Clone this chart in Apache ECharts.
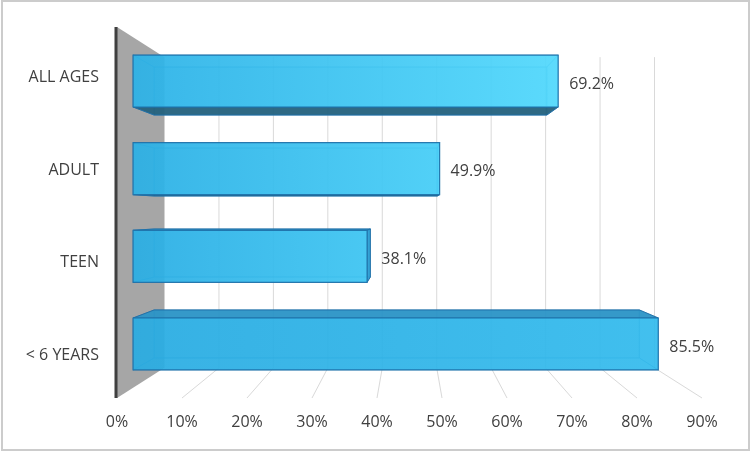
<!DOCTYPE html>
<html>
<head>
<meta charset="utf-8">
<title>Age groups</title>
<script src="https://cdn.jsdelivr.net/npm/echarts@6.0.0/dist/echarts.min.js"></script>
<style>
  html, body { margin: 0; padding: 0; background: #fff; }
  #chart { width: 752px; height: 452px; }
</style>
</head>
<body>
<div id="chart"></div>
<script>
// data
var categories = ['ALL AGES', 'ADULT', 'TEEN', '< 6 YEARS'];
var values = [69.2, 49.9, 38.1, 85.5];
var xTicks = [0, 10, 20, 30, 40, 50, 60, 70, 80, 90];

// fake perspective: everything shrinks toward the plot centre
var S_WALL = 0.8376;   // back wall
var S_FRONT = 0.945;   // front face of the bars
var S_BACK = 0.873;    // back face of the bars
var BAR_RATIO = 0.593; // bar thickness / category band

var FONT = '"Open Sans", "Noto Sans", sans-serif';
var TEXT = '#404040';

function proj(cx, cy, x, y, s) {
    return [cx + s * (x - cx), cy + s * (y - cy)];
}

function mix(a, b, t) {
    var pa = [1, 3, 5].map(function (i) { return parseInt(a.substr(i, 2), 16); });
    var pb = [1, 3, 5].map(function (i) { return parseInt(b.substr(i, 2), 16); });
    return 'rgb(' + pa.map(function (v, i) { return Math.round(v + (pb[i] - v) * t); }).join(',') + ')';
}

// back wall grid, floor lines and the grey left wall
function renderFrame(params, api) {
    var cs = params.coordSys;
    var cx = cs.x + cs.width / 2, cy = cs.y + cs.height / 2;
    var top = cs.y, bottom = cs.y + cs.height;
    var x = api.coord([api.value(0), 0])[0];
    var bt = proj(cx, cy, x, top, S_WALL);
    var bb = proj(cx, cy, x, bottom, S_WALL);
    var children = [];
    if (api.value(0) === 0) {
        children.push({
            type: 'polygon',
            shape: { points: [[x, top], bt, bb, [x, bottom]] },
            style: { fill: '#a6a6a6' }
        });
        children.push({
            type: 'line',
            shape: { x1: x - 1, y1: top, x2: x - 1, y2: bottom },
            style: { stroke: '#3f3f3f', lineWidth: 3 }
        });
    } else {
        children.push({
            type: 'line',
            shape: { x1: bt[0], y1: bt[1], x2: bb[0], y2: bb[1] },
            style: { stroke: '#d9d9d9', lineWidth: 1 }
        });
        children.push({
            type: 'line',
            shape: { x1: bb[0], y1: bb[1], x2: x, y2: bottom },
            style: { stroke: '#d9d9d9', lineWidth: 1 }
        });
    }
    return { type: 'group', children: children };
}

function renderBar(params, api) {
    var cs = params.coordSys;
    var cx = cs.x + cs.width / 2, cy = cs.y + cs.height / 2;
    var idx = api.value(1);
    var p0 = api.coord([0, idx]);
    var p1 = api.coord([api.value(0), idx]);
    var h = api.size([0, 1])[1] * BAR_RATIO;
    var x0 = p0[0], x1 = p1[0];
    var y0 = p0[1] - h / 2, y1 = p0[1] + h / 2;

    function corners(s) {
        return [proj(cx, cy, x0, y0, s), proj(cx, cy, x1, y0, s),
                proj(cx, cy, x1, y1, s), proj(cx, cy, x0, y1, s)];
    }
    var F = corners(S_FRONT), B = corners(S_BACK);
    var faint = 'rgba(30,115,175,0.45)';
    var children = [];

    // back face, only its edges show through
    children.push({ type: 'polygon', shape: { points: B },
        style: { fill: 'rgba(40,170,225,0.15)', stroke: faint, lineWidth: 1 } });

    var faces = [
        { pts: [F[0], F[1], B[1], B[0]], show: y0 > cy, fill: '#2b93c6' },  // top
        { pts: [F[3], F[2], B[2], B[3]], show: y1 < cy, fill: '#24617d' },  // bottom
        { pts: [F[1], F[2], B[2], B[1]], show: x1 < cx, fill: '#2a9dd3' },  // right end
        { pts: [F[0], F[3], B[3], B[0]], show: x0 > cx, fill: '#2a9dd3' }   // left end
    ];
    faces.forEach(function (f) {
        if (!f.show) {
            children.push({ type: 'polygon', shape: { points: f.pts },
                style: { fill: 'none', stroke: faint, lineWidth: 1 } });
        }
    });
    faces.forEach(function (f) {
        if (f.show) {
            children.push({ type: 'polygon', shape: { points: f.pts },
                style: { fill: f.fill, stroke: '#2070a8', lineWidth: 1, opacity: 0.95 } });
        }
    });

    // front face, lighter toward the top of the plot
    var t = (p0[1] - cs.y) / cs.height;
    children.push({
        type: 'polygon',
        shape: { points: F },
        style: {
            fill: new echarts.graphic.LinearGradient(0, 0, 1, 0, [
                { offset: 0, color: mix('#2db3e8', '#28abe1', t) },
                { offset: 1, color: mix('#56ddff', '#2fb6ea', t) }
            ]),
            stroke: '#1f72aa',
            lineWidth: 1.2,
            opacity: 0.93
        }
    });

    // value label
    var right = Math.max(F[1][0], B[1][0]);
    children.push({
        type: 'text',
        style: {
            text: api.value(0).toFixed(1) + '%',
            x: right + 11,
            y: (F[0][1] + F[3][1]) / 2 + 3,
            fill: TEXT,
            fontSize: 16,
            fontFamily: FONT,
            align: 'left',
            verticalAlign: 'middle'
        }
    });
    return { type: 'group', children: children };
}

var chart = echarts.init(document.getElementById('chart'));
var option = {
    animation: false,
    backgroundColor: '#ffffff',
    graphic: [{
        type: 'rect',
        shape: { x: 2, y: 1, width: 747, height: 449 },
        style: { fill: 'none', stroke: '#cccccc', lineWidth: 2 },
        silent: true
    }],
    grid: { left: 117, right: 50, top: 27, bottom: 54, containLabel: false },
    xAxis: {
        type: 'value',
        min: 0,
        max: 90,
        interval: 10,
        axisLine: { show: false },
        axisTick: { show: false },
        splitLine: { show: false },
        axisLabel: {
            formatter: '{value}%',
            margin: 16,
            color: TEXT,
            fontSize: 16,
            fontFamily: FONT
        }
    },
    yAxis: {
        type: 'category',
        inverse: true,
        data: categories,
        axisLine: { show: false },
        axisTick: { show: false },
        splitLine: { show: false },
        axisLabel: {
            margin: 18,
            formatter: '{c|{value}}',
            rich: {
                c: {
                    color: TEXT,
                    fontSize: 16,
                    fontFamily: FONT,
                    padding: [8, 0, 0, 0]
                }
            }
        }
    },
    series: [
        {
            type: 'custom',
            name: 'frame',
            silent: true,
            clip: false,
            z: 1,
            renderItem: renderFrame,
            encode: { x: 0, y: 1 },
            data: xTicks.map(function (v) { return [v, 0]; })
        },
        {
            type: 'custom',
            name: 'share',
            silent: true,
            clip: false,
            z: 2,
            renderItem: renderBar,
            encode: { x: 0, y: 1 },
            data: values.map(function (v, i) { return [v, i]; })
        }
    ]
};
chart.setOption(option);
</script>
</body>
</html>
